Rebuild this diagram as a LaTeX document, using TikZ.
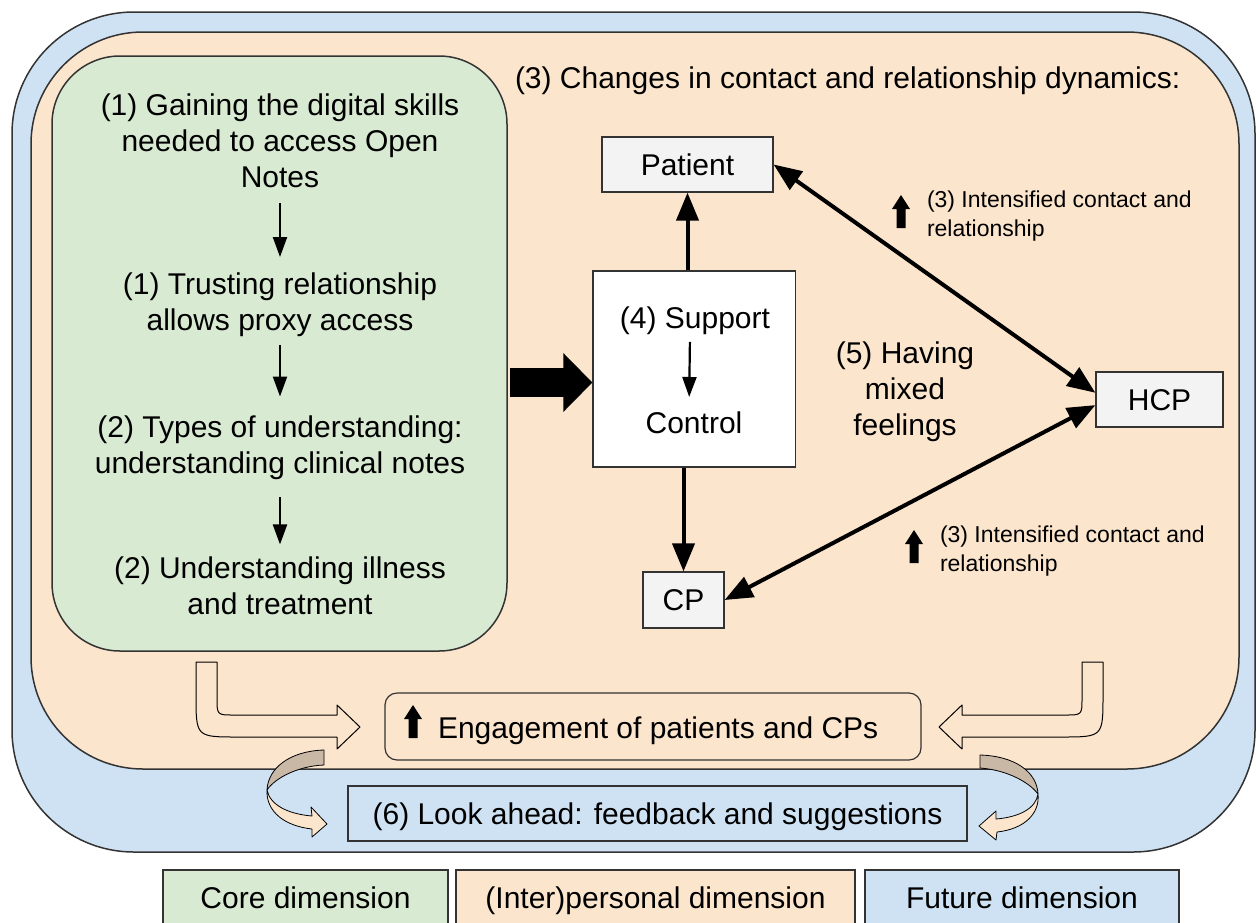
\documentclass[tikz,border=0pt]{standalone}
\usepackage{fontspec}
\setmainfont{Liberation Sans}
\usetikzlibrary{arrows.meta,calc}
\definecolor{cblue}{HTML}{CFE2F3}
\definecolor{corange}{HTML}{FCE5CD}
\definecolor{cgreen}{HTML}{D9EAD3}
\definecolor{cgray}{HTML}{F3F3F3}
\definecolor{ctan}{HTML}{C9B8A5}
\definecolor{cline}{HTML}{333333}
\tikzset{
  uparr/.pic={\fill (-9,14) -- (0,0) -- (9,14) -- (4.5,14) -- (4.5,33) -- (-4.5,33) -- (-4.5,14) -- cycle;},
  txt/.style={inner sep=0pt, outer sep=0pt},
  big/.style={font=\fontsize{30}{36}\selectfont},
  small/.style={font=\fontsize{23}{29}\selectfont},
  boxlab/.style={draw=cline, line width=1.2pt, inner sep=0pt, big, text height=21.5pt, text depth=0pt},
  thin arrow/.style={-{Triangle[length=20pt,width=14pt]}, line width=2.2pt},
  thick arrow/.style={-{Triangle[length=28pt,width=22pt]}, line width=4pt},
  dbl arrow/.style={{Triangle[length=28pt,width=22pt]}-{Triangle[length=28pt,width=22pt]}, line width=4pt},
  hollow/.style={draw=black, line width=1pt, fill=corange, line join=round},
  ribbon/.style={draw=black, line width=0.8pt, line join=round},
  region/.style={draw=cline, line width=1.5pt}
}
\begin{document}
\begin{tikzpicture}[x=1pt,y=-1pt]
\clip (0,0) rectangle (1256,922);
\fill[white] (0,0) rectangle (1256,922);

% regions
\draw[region, fill=cblue, rounded corners=122pt] (12,12) rectangle (1255,852);
\draw[region, fill=corange, rounded corners=112pt] (31,32) rectangle (1239,769);
\node[region, fill=cgreen, rounded corners=68pt, minimum width=455pt, minimum height=595pt, inner sep=0pt] (core) at (279.5,353.5) {};

% core texts
\node[txt, big, align=center] (g1) at (280,141) {(1) Gaining the digital skills\\needed to access Open\\Notes};
\node[txt, big, align=center] (g2) at (280,305) {(1) Trusting relationship\\allows proxy access};
\node[txt, big, align=center] (g3) at (280,447.5) {(2) Types of understanding:\\understanding clinical notes};
\node[txt, big, align=center] (g4) at (280,585.5) {(2) Understanding illness\\and treatment};
\draw[thin arrow, shorten <=15pt, shorten >=16pt] (g1) -- (g2);
\draw[thin arrow, shorten <=8pt, shorten >=19pt] (g2) -- (g3);
\draw[thin arrow, shorten <=18pt, shorten >=12pt] (g3) -- (g4);

% header
\node[txt, big, anchor=base west] (hdr) at (515,88) {(3) Changes in contact and relationship dynamics:};

% support box
\node[draw=cline, line width=1.2pt, fill=white, minimum width=202.5pt, minimum height=196pt, inner sep=0pt] (supp) at (694.25,369) {};
\node[txt, big] (sup) at (695,321) {(4) Support};
\node[txt, big] (ctl) at (694,423) {Control};
\draw[thin arrow, shorten <=7pt, shorten >=15pt] ([xshift=-5pt]sup.south) -- ([xshift=-5pt]ctl.north);

% actors
\node[boxlab, fill=cgray, minimum width=171pt, minimum height=55pt] (pat) at (687.5,164.5) {Patient};
\node[boxlab, fill=cgray, minimum width=81pt, minimum height=56pt] (cp) at (683.5,600) {CP};
\node[boxlab, fill=cgray, minimum width=127pt, minimum height=55pt] (hcp) at (1159.5,399.5) {HCP};

\draw[thick arrow] (supp.north -| pat.south) -- (pat.south);
\draw[thick arrow] (supp.south -| cp.north) -- (cp.north);
\draw[dbl arrow] (pat.east) -- (hcp.174);
\draw[dbl arrow] (cp.east) -- (hcp.185);

% big black arrow
\coordinate (bigy) at (0,382.5);
\draw[line width=29pt, -{Triangle[length=29pt,width=57pt]}, shorten <=2pt] (core.east |- bigy) -- (supp.west |- bigy);

% mixed feelings
\node[txt, big, align=center] (mix) at (905,392) {(5) Having\\mixed\\feelings};

% intensified labels
\pic at (901,195) {uparr};
\node[txt, small, align=left, anchor=north west] (int1) at (927,191) {(3) Intensified contact and\\relationship};
\pic at (914,530) {uparr};
\node[txt, small, align=left, anchor=north west] (int2) at (940,526) {(3) Intensified contact and\\relationship};

% engagement
\node[draw=cline, line width=1.2pt, fill=corange, rounded corners=12pt, minimum width=536pt, minimum height=67pt, inner sep=0pt] (eng) at (653,726.5) {};
\pic at (413,705) {uparr};
\node[txt, big, anchor=base west] (engt) at (438,738) {Engagement of patients and CPs};

% hollow bent arrows
\draw[hollow] (196,662) -- (217,662) -- (217,698) .. controls (217,715) .. (234,715) -- (337,715) -- (337,705) -- (360,727) -- (337,749) -- (337,737) -- (238,737) .. controls (196,737) .. (196,695) -- cycle;
\draw[hollow] (1103,662) -- (1082,662) -- (1082,698) .. controls (1082,715) .. (1065,715) -- (962,715) -- (962,705) -- (939,727) -- (962,749) -- (962,737) -- (1061,737) .. controls (1103,737) .. (1103,695) -- cycle;

% look ahead
\node[boxlab, fill=cblue, minimum width=619pt, minimum height=55pt] (look) at (657.5,813.5) {(6) Look ahead: feedback and suggestions};

% curved ribbon arrows
\draw[ribbon, fill=ctan] (324,750) .. controls (290,751) and (268,768) .. (267,790) .. controls (275,778) and (298,766) .. (324,765) -- cycle;
\draw[ribbon, fill=corange] (267,790) .. controls (270,805) and (288,814) .. (312,816) -- (311,807) -- (327,824) -- (312,837) -- (312,829) .. controls (285,826) and (266,812) .. (267,790) -- cycle;
\draw[ribbon, fill=ctan] (980,755) .. controls (1015,756) and (1037,772) .. (1038,794) .. controls (1030,783) and (1008,770) .. (980,768) -- cycle;
\draw[ribbon, fill=corange] (1038,794) .. controls (1036,808) and (1020,817) .. (996,819) -- (996,811) -- (979,826) -- (996,840) -- (997,832) .. controls (1025,829) and (1040,813) .. (1038,794) -- cycle;

% legend
\node[boxlab, fill=cgreen, minimum width=285pt, minimum height=56pt] (lcore) at (305.5,898) {Core dimension};
\node[boxlab, fill=corange, minimum width=399pt, minimum height=56pt] (linter) at (655.5,898) {(Inter)personal dimension};
\node[boxlab, fill=cblue, minimum width=314pt, minimum height=56pt] (lfut) at (1022,898) {Future dimension};
\end{tikzpicture}
\end{document}
